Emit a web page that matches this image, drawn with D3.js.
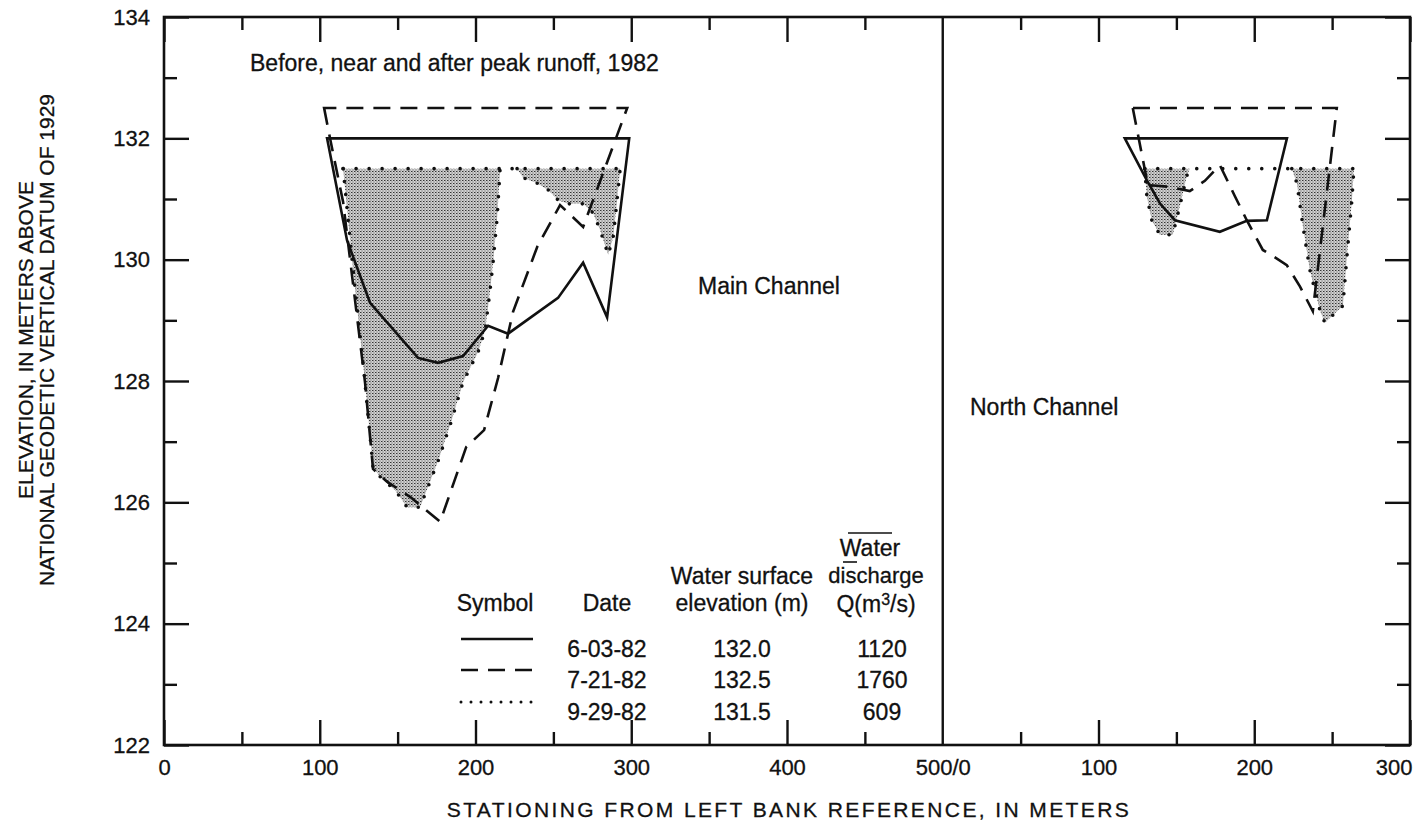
<!DOCTYPE html>
<html>
<head>
<meta charset="utf-8">
<script src="https://cdn.jsdelivr.net/npm/d3@7/dist/d3.min.js"></script>
<style>
  html, body { margin: 0; padding: 0; background: #fff; }
  svg { display: block; }
  text { font-family: "Liberation Sans", Arial, Helvetica, sans-serif; fill: #111; stroke: #111; stroke-width: 0.3px; }
</style>
</head>
<body>
<svg id="chart" width="1426" height="830"></svg>
<script>
// ---- Data: cross-section profiles as [station (m), elevation (m)] ----
// Main Channel (stations 0-500)
const mainJune = [[104.7,132.0],[117.5,130.32],[132.3,129.29],[163.1,128.38],[176.0,128.30],[192.0,128.41],[208.1,128.91],[220.9,128.78],[253.0,129.37],[269.1,129.95],[284.5,129.05],[298.7,132.0]];
const mainJuly = [[102.8,132.5],[106.6,132.0],[115.0,130.95],[129.1,127.97],[134.2,126.55],[143.2,126.34],[158.0,126.09],[177.3,125.68],[194.0,126.91],[205.5,127.19],[214.5,128.05],[224.1,129.14],[239.6,130.21],[254.3,130.90],[269.1,130.54],[297.4,132.5]];
const mainSeptA = [[115.0,131.5],[121.4,129.83],[127.8,128.30],[134.2,126.58],[139.4,126.40],[148.4,126.20],[156.1,125.92],[164.4,125.92],[176.0,126.68],[184.3,127.32],[192.0,127.98],[201.7,128.48],[206.2,128.84],[209.4,129.50],[211.3,129.96],[213.9,130.69],[215.8,131.5]];
const mainSeptB = [[226.7,131.5],[230.6,131.35],[239.6,131.26],[246.6,131.15],[253.1,130.98],[259.5,130.92],[269.1,130.92],[275.5,130.77],[280.0,130.49],[285.2,130.08],[288.4,130.37],[290.9,130.98],[292.9,131.5]];

// North Channel (stations 0-300)
const northJune = [[116.9,132.0],[131.0,131.31],[139.4,130.93],[149.0,130.65],[177.9,130.46],[195.2,130.64],[208.1,130.65],[221.0,132.0]];
const northJuly = [[122.0,132.5],[131.7,131.23],[145.8,131.20],[158.6,131.13],[168.3,131.30],[177.9,131.56],[187.5,131.05],[195.2,130.65],[205.5,130.16],[211.9,130.06],[220.9,129.91],[229.3,129.56],[237.6,129.15],[253.0,132.5]];
const northSeptA = [[129.7,131.5],[131.0,131.05],[134.2,130.65],[139.4,130.41],[147.7,130.41],[152.2,130.88],[156.7,131.38],[158.6,131.5]];
const northSeptB = [[224.1,131.5],[227.4,131.26],[231.2,130.56],[235.7,129.83],[242.1,129.17],[245.3,128.96],[256.9,129.24],[260.1,130.23],[262.7,130.98],[264.0,131.5]];

// Legend table
const legendDates = ["6-03-82", "7-21-82", "9-29-82"];
const surfaceElev = [132.0, 132.5, 131.5];
const discharge = [1120, 1760, 609];

// Axis ticks
const xMajorTicks = [0, 100, 200, 300, 400, 500, 600, 700, 800];
const xTickLabels = ["0", "100", "200", "300", "400", "500/0", "100", "200", "300"];
const xMinorTicks = [50, 150, 250, 350, 450, 550, 650, 750];
const yMajorTicks = [122, 124, 126, 128, 130, 132, 134];
const yMinorTicks = [123, 125, 127, 129, 131, 133];

// ---- Layout ----
const svg = d3.select("#chart");
const plotL = 164, plotR = 1410, plotT = 17, plotB = 745;
const x = d3.scaleLinear().domain([0, 800]).range([plotL, plotR]);
const y = d3.scaleLinear().domain([122, 134]).range([plotB, plotT]);
const divider = 500;
const xMain = d3.scaleLinear().domain([0, 500]).range([x(0), x(divider)]);
const xNorth = d3.scaleLinear().domain([0, 300]).range([x(divider), x(800)]);

// stipple pattern for the wetted area of 9-29-82
const defs = svg.append("defs");
const pat = defs.append("pattern").attr("id", "stipple")
  .attr("patternUnits", "userSpaceOnUse").attr("width", 3).attr("height", 3);
pat.append("rect").attr("width", 3).attr("height", 3).attr("fill", "#d2d2d2");
pat.append("rect").attr("x", 0).attr("y", 0).attr("width", 1).attr("height", 1).attr("fill", "#333");
pat.append("rect").attr("x", 1.5).attr("y", 1.5).attr("width", 1).attr("height", 1).attr("fill", "#555");
pat.append("rect").attr("x", 1).attr("y", 0).attr("width", 1).attr("height", 1).attr("fill", "#888");

const lineFor = sx => d3.line().x(d => sx(d[0])).y(d => y(d[1]));

const styles = {
  solid:  { dash: null,   width: 2.6 },
  dashed: { dash: "17 10", width: 2.6 },
  dotted: { dash: "0 13", width: 3.6 }
};

function drawSection(sx, june, july, septParts) {
  const g = svg.append("g");
  // shaded wetted area (9-29-82)
  septParts.forEach(part => {
    g.append("path").attr("d", lineFor(sx)(part) + "Z")
      .attr("fill", "url(#stipple)").attr("stroke", "none");
  });
  // dotted bed outline for 9-29-82
  septParts.forEach(part => {
    g.append("path").attr("d", lineFor(sx)(part))
      .attr("fill", "none").attr("stroke", "#111")
      .attr("stroke-width", styles.dotted.width)
      .attr("stroke-dasharray", styles.dotted.dash)
      .attr("stroke-linecap", "round");
  });
  // dotted water surface for 9-29-82
  const last = septParts[septParts.length - 1];
  const s0 = septParts[0][0][0];
  const s1 = last[last.length - 1][0];
  g.append("path").attr("d", lineFor(sx)([[s0, surfaceElev[2]], [s1, surfaceElev[2]]]))
    .attr("fill", "none").attr("stroke", "#111")
    .attr("stroke-width", styles.dotted.width)
    .attr("stroke-dasharray", styles.dotted.dash)
    .attr("stroke-linecap", "round");
  // 7-21-82 dashed section, closed by its water surface
  g.append("path").attr("d", lineFor(sx)(july) + "Z")
    .attr("fill", "none").attr("stroke", "#111")
    .attr("stroke-width", styles.dashed.width)
    .attr("stroke-dasharray", styles.dashed.dash);
  // 6-03-82 solid section, closed by its water surface
  g.append("path").attr("d", lineFor(sx)(june) + "Z")
    .attr("fill", "none").attr("stroke", "#111")
    .attr("stroke-width", styles.solid.width);
}

drawSection(xMain, mainJune, mainJuly, [mainSeptA, mainSeptB]);
drawSection(xNorth, northJune, northJuly, [northSeptA, northSeptB]);

// ---- Axes (ticks point inward on all four sides) ----
const axisStyle = g => {
  g.select(".domain").remove();
  g.selectAll(".tick line").attr("stroke", "#111").attr("stroke-width", 2.4);
};
const labelFont = g => g.selectAll("text")
  .style("font-size", "22px").attr("fill", "#111");

// bottom
svg.append("g").attr("transform", `translate(0,${plotB})`)
  .call(d3.axisBottom(x).tickValues(xMajorTicks).tickSize(-25).tickPadding(34)
        .tickFormat((d, i) => xTickLabels[i]))
  .call(axisStyle).call(labelFont)
  .call(g => g.selectAll(".tick text").attr("dy", "-0.2em"))
  .call(g => g.selectAll(".tick").filter(d => d === 800).select("text").attr("text-anchor", "end").attr("dx", 2))
  .call(g => g.selectAll(".tick").filter(d => d === 500).select("line").remove());
svg.append("g").attr("transform", `translate(0,${plotB})`)
  .call(d3.axisBottom(x).tickValues(xMinorTicks).tickSize(-13).tickFormat(""))
  .call(axisStyle);
// top
svg.append("g").attr("transform", `translate(0,${plotT})`)
  .call(d3.axisTop(x).tickValues(xMajorTicks.filter(d => d !== 500)).tickSize(-25).tickFormat(""))
  .call(axisStyle);
svg.append("g").attr("transform", `translate(0,${plotT})`)
  .call(d3.axisTop(x).tickValues(xMinorTicks).tickSize(-13).tickFormat(""))
  .call(axisStyle);
// left
svg.append("g").attr("transform", `translate(${plotL},0)`)
  .call(d3.axisLeft(y).tickValues(yMajorTicks).tickSize(-25).tickPadding(14).tickFormat(d3.format("d")))
  .call(axisStyle).call(labelFont);
svg.append("g").attr("transform", `translate(${plotL},0)`)
  .call(d3.axisLeft(y).tickValues(yMinorTicks).tickSize(-13).tickFormat(""))
  .call(axisStyle);
// right
svg.append("g").attr("transform", `translate(${plotR},0)`)
  .call(d3.axisRight(y).tickValues(yMajorTicks).tickSize(-25).tickFormat(""))
  .call(axisStyle);
svg.append("g").attr("transform", `translate(${plotR},0)`)
  .call(d3.axisRight(y).tickValues(yMinorTicks).tickSize(-13).tickFormat(""))
  .call(axisStyle);

// frame and channel divider
svg.append("rect").attr("x", plotL).attr("y", plotT)
  .attr("width", plotR - plotL).attr("height", plotB - plotT)
  .attr("fill", "none").attr("stroke", "#111").attr("stroke-width", 2.6);
svg.append("line").attr("x1", x(divider)).attr("x2", x(divider))
  .attr("y1", plotT).attr("y2", plotB)
  .attr("stroke", "#111").attr("stroke-width", 2.4);

// ---- Text ----
svg.append("text").attr("x", 250).attr("y", 71).style("font-size", "23px")
  .text("Before, near and after peak runoff, 1982");
svg.append("text").attr("x", 698).attr("y", 294).style("font-size", "23px")
  .text("Main Channel");
svg.append("text").attr("x", 970).attr("y", 415).style("font-size", "23px")
  .text("North Channel");

// axis titles
svg.append("text").attr("x", 789).attr("y", 817).attr("text-anchor", "middle")
  .style("font-size", "21px").style("letter-spacing", "2.4px")
  .text("STATIONING FROM LEFT BANK REFERENCE, IN METERS");
const yTitle = svg.append("g").attr("transform", "translate(0,340) rotate(-90)");
yTitle.append("text").attr("x", 0).attr("y", 33).attr("text-anchor", "middle")
  .style("font-size", "21px").text("ELEVATION, IN METERS ABOVE");
yTitle.append("text").attr("x", 0).attr("y", 54).attr("text-anchor", "middle")
  .style("font-size", "21px").text("NATIONAL GEODETIC VERTICAL DATUM OF 1929");

// ---- Legend table ----
const leg = svg.append("g").style("font-size", "23px");
const colSym = 495, colDate = 607, colElev = 742, colQ = 876;
leg.append("text").attr("x", colSym).attr("y", 611).attr("text-anchor", "middle").text("Symbol");
leg.append("text").attr("x", colDate).attr("y", 611).attr("text-anchor", "middle").text("Date");
leg.append("text").attr("x", colElev).attr("y", 584).attr("text-anchor", "middle").text("Water surface");
leg.append("text").attr("x", colElev).attr("y", 611).attr("text-anchor", "middle").text("elevation (m)");
leg.append("text").attr("x", colQ - 6).attr("y", 556).attr("text-anchor", "middle").text("Water");
leg.append("text").attr("x", colQ).attr("y", 583).attr("text-anchor", "middle").style("font-size", "22px").text("discharge");
const qHead = leg.append("text").attr("x", colQ).attr("y", 612).attr("text-anchor", "middle");
qHead.append("tspan").text("Q(m");
qHead.append("tspan").attr("dy", -7).style("font-size", "16px").text("3");
qHead.append("tspan").attr("dy", 7).text("/s)");
// short rules printed over the discharge heading
leg.append("line").attr("x1", 848).attr("x2", 892).attr("y1", 533).attr("y2", 533)
  .attr("stroke", "#111").attr("stroke-width", 1.6);
leg.append("line").attr("x1", 843).attr("x2", 857).attr("y1", 562).attr("y2", 562)
  .attr("stroke", "#111").attr("stroke-width", 1.6);

const rowY = [657, 688, 720];
const symStyles = [styles.solid, styles.dashed, styles.dotted];
legendDates.forEach((d, i) => {
  const st = symStyles[i];
  leg.append("line").attr("x1", 461).attr("x2", i === 1 ? 538 : 533)
    .attr("y1", rowY[i] - 18).attr("y2", rowY[i] - 18)
    .attr("stroke", "#111").attr("stroke-width", i === 2 ? 3 : 2.4)
    .attr("stroke-dasharray", i === 2 ? "0 10" : st.dash)
    .attr("stroke-linecap", i === 2 ? "round" : "butt");
  leg.append("text").attr("x", colDate).attr("y", rowY[i]).attr("text-anchor", "middle").text(d);
  leg.append("text").attr("x", colElev).attr("y", rowY[i]).attr("text-anchor", "middle").text(surfaceElev[i].toFixed(1));
  leg.append("text").attr("x", colQ + 6).attr("y", rowY[i]).attr("text-anchor", "middle").text(discharge[i]);
});
</script>
</body>
</html>
